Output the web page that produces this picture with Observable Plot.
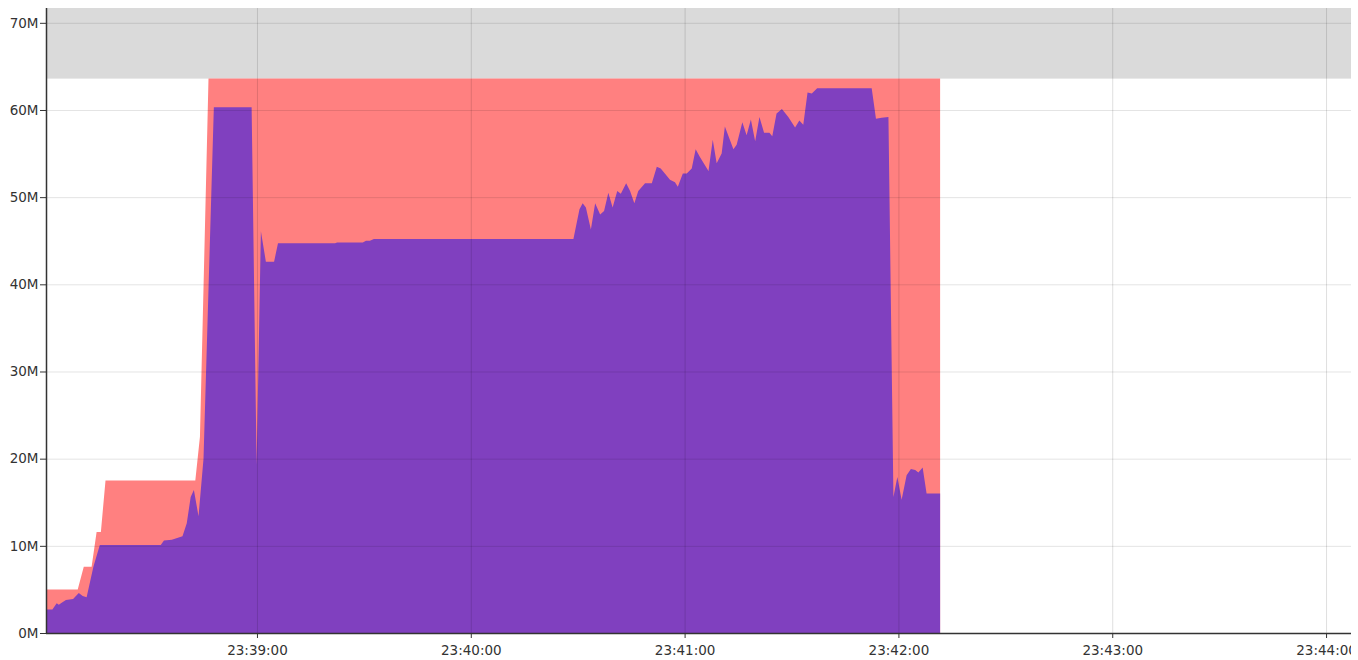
<!DOCTYPE html>
<html>
<head>
<meta charset="utf-8">
<script src="https://cdn.jsdelivr.net/npm/d3@7"></script>
<script src="https://cdn.jsdelivr.net/npm/@observablehq/plot@0.6"></script>
<style>
  html, body { margin: 0; padding: 0; background: white; }
  #wrap { width: 1351px; height: 660px; overflow: hidden; }
  #wrap svg { max-width: none !important; }
</style>
</head>
<body>
<div id="wrap"></div>
<script>
// seconds after 23:38:00 (UTC day used only as a carrier)
const redSeconds = [0.8, 9.7, 11.4, 13.6, 15.0, 16.2, 17.5, 42.7, 44.0, 46.4, 251.7];
const redValues  = [5.0, 5.0, 7.6, 7.6, 11.6, 11.6, 17.5, 17.5, 22.5, 63.6, 63.6];

const purpleSeconds = [
  0.8, 2.6, 3.8, 4.4, 5.3, 6.4, 8.4, 10.0, 11.1, 12.2, 14.1, 15.9, 33.0, 33.9, 36.1,
  39.1, 40.3, 41.4, 42.3, 43.6, 45.0, 47.9, 58.5, 59.9, 61.1, 62.5, 64.8, 65.9, 81.9,
  82.5, 89.7, 90.6, 91.7, 92.8, 148.8, 150.5, 151.4, 152.3, 153.7, 154.9, 156.3, 157.4,
  158.6, 159.8, 161.1, 162.1, 163.6, 164.7, 165.9, 167.0, 168.9, 170.8, 172.2, 173.3,
  175.9, 177.3, 178.1, 179.5, 180.6, 182.0, 183.1, 184.3, 186.7, 187.9, 189.0, 190.4,
  191.3, 193.7, 194.6, 196.2, 197.4, 198.6, 199.8, 201.0, 202.3, 203.8, 204.6, 205.8,
  207.3, 209.1, 211.0, 212.2, 213.3, 214.5, 215.7, 217.2, 232.5, 233.7, 235.3, 237.2,
  238.6, 239.7, 240.9, 242.3, 243.5, 244.7, 245.6, 246.8, 247.9, 251.7
];
const purpleValues = [
  2.7, 2.7, 3.4, 3.25, 3.5, 3.8, 3.9, 4.6, 4.25, 4.1, 7.6, 10.1, 10.1, 10.6, 10.7,
  11.1, 12.6, 15.6, 16.4, 13.4, 20.0, 60.3, 60.3, 19.3, 46.1, 42.6, 42.6, 44.7, 44.7,
  44.8, 44.8, 45.0, 45.0, 45.2, 45.2, 48.6, 49.3, 48.8, 46.3, 49.3, 48.0, 48.4,
  50.5, 48.8, 50.7, 50.4, 51.6, 50.7, 49.3, 50.7, 51.6, 51.6, 53.5, 53.3,
  52.0, 51.7, 51.2, 52.7, 52.7, 53.3, 55.5, 54.6, 53.0, 56.6, 53.9, 55.0,
  58.1, 55.5, 56.0, 58.6, 57.1, 58.9, 56.4, 59.2, 57.4, 57.4, 57.0, 59.6,
  60.1, 59.2, 58.0, 58.8, 58.3, 62.0, 61.9, 62.5, 62.5, 59.0, 59.1, 59.2,
  15.6, 17.9, 15.3, 18.1, 18.8, 18.7, 18.4, 19.0, 16.0, 16.0
];

const xDomainSeconds = [0.8, 367.0];
const xTickSeconds = [60, 120, 180, 240, 300, 360];
const yTicks = [0, 10, 20, 30, 40, 50, 60, 70];
const yDomain = [0, 71.7];
const bandRange = [63.6, 71.7];

const base = Date.UTC(2024, 0, 1, 23, 38, 0);
const t = s => new Date(base + s * 1000);

const red = redSeconds.map((s, i) => ({t: t(s), v: redValues[i]}));
const purple = purpleSeconds.map((s, i) => ({t: t(s), v: purpleValues[i]}));
const xDomain = xDomainSeconds.map(t);
const xTicks = xTickSeconds.map(t);
const band = [{x1: xDomain[0], x2: xDomain[1], y1: bandRange[0], y2: bandRange[1]}];

const chart = Plot.plot({
  width: 1358,
  height: 660,
  marginLeft: 46,
  marginRight: 7,
  marginTop: 8,
  marginBottom: 27,
  style: {fontFamily: "DejaVu Sans, Verdana, sans-serif", fontSize: "13.5px", color: "#333", background: "white", maxWidth: "none"},
  x: {type: "utc", domain: xDomain, ticks: xTicks, tickFormat: d3.utcFormat("%H:%M:%S"), label: null, tickSize: 5, tickPadding: 7},
  y: {domain: yDomain, ticks: yTicks, tickFormat: d => d + "M", label: null, tickSize: 6, tickPadding: 2},
  marks: [
    Plot.rect(band, {x1: "x1", x2: "x2", y1: "y1", y2: "y2", fill: "#dadada"}),
    Plot.areaY(red, {x: "t", y: "v", fill: "#ff8080"}),
    Plot.areaY(purple, {x: "t", y: "v", fill: "#8040bf"}),
    Plot.ruleX(xTicks, {stroke: "black", strokeOpacity: 0.13}),
    Plot.ruleY(yTicks.filter(d => d > 0), {stroke: "black", strokeOpacity: 0.11}),
    Plot.ruleY([0], {stroke: "#333", strokeWidth: 1.5}),
    Plot.ruleX([xDomain[0]], {stroke: "#333", strokeWidth: 1.5})
  ]
});
document.getElementById("wrap").appendChild(chart);
</script>
</body>
</html>
